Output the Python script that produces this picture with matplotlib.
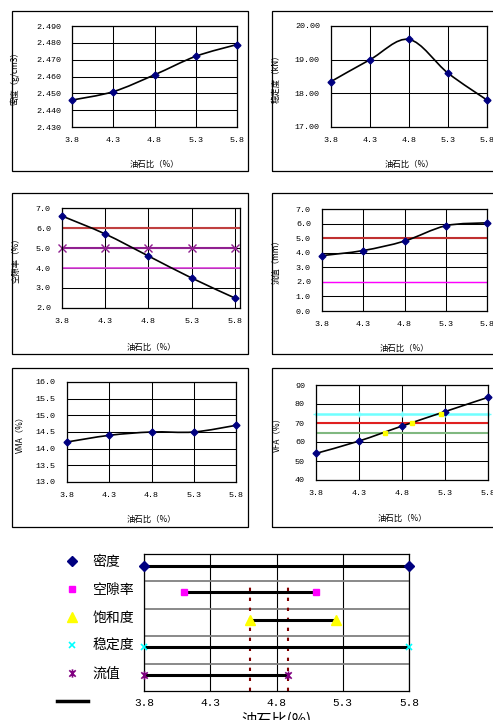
import numpy as np
import matplotlib
matplotlib.use('Agg')
import matplotlib.pyplot as plt
from matplotlib.path import Path
from matplotlib.patches import PathPatch, Rectangle
from matplotlib.lines import Line2D

plt.rcParams['font.family'] = ['Noto Sans CJK SC', 'DejaVu Sans']

# ---- data ----
asphalt = [3.8, 4.3, 4.8, 5.3, 5.8]          # 油石比 (%)
density = [2.446, 2.451, 2.461, 2.472, 2.479]
stability = [18.35, 19.0, 19.6, 18.6, 17.8]
air_voids = [6.6, 5.7, 4.6, 3.5, 2.5]
flow = [3.8, 4.15, 4.8, 5.85, 6.05]
vma = [14.2, 14.4, 14.5, 14.5, 14.7]
vfa = [54.0, 60.5, 68.4, 76.0, 83.5]

vv_upper, vv_mid, vv_lower = 6.0, 5.0, 4.0
flow_upper, flow_lower = 5.0, 2.0
vfa_upper, vfa_mid, vfa_lower = 75, 70, 65
vfa_cross_x = [4.6, 4.92, 5.25]
vfa_cross_y = [65, 70, 75]

# summary of acceptable asphalt ranges
range_names = ['密度', '空隙率', '饱和度', '稳定度', '流值']
range_lo = [3.8, 4.1, 4.6, 3.8, 3.8]
range_hi = [5.8, 5.1, 5.25, 5.8, 4.89]
range_row = [4.55, 3.6, 2.6, 1.6, 0.6]
oac_bounds = [4.6, 4.89]

W, H = 493, 720
fig = plt.figure(figsize=(W / 100, H / 100), dpi=100)
MONO = 'Liberation Mono'
NAVY = '#000080'


def px_axes(x0, y0, x1, y1):
    return fig.add_axes([x0 / W, 1 - y1 / H, (x1 - x0) / W, (y1 - y0) / H])


def frame(x0, y0, x1, y1):
    fig.add_artist(Rectangle((x0 / W, 1 - y1 / H), (x1 - x0) / W, (y1 - y0) / H,
                             transform=fig.transFigure, fill=False,
                             ec='black', lw=0.9))


def smooth(ax, x, y):
    # excel-like smoothed line: bezier through the points
    x = np.asarray(x, float); y = np.asarray(y, float)
    px = np.r_[x[0], x, x[-1]]; py = np.r_[y[0], y, y[-1]]
    verts = [(x[0], y[0])]; codes = [Path.MOVETO]
    for i in range(1, len(x)):
        c1 = (px[i] + (px[i + 1] - px[i - 1]) / 6, py[i] + (py[i + 1] - py[i - 1]) / 6)
        c2 = (px[i + 1] - (px[i + 2] - px[i]) / 6, py[i + 1] - (py[i + 2] - py[i]) / 6)
        verts += [c1, c2, (px[i + 1], py[i + 1])]
        codes += [Path.CURVE4] * 3
    ax.add_patch(PathPatch(Path(verts, codes), fill=False, lw=1.2,
                           ec='black', zorder=3))
    ax.plot(x, y, ls='none', marker='D', ms=3.5, color=NAVY, zorder=4,
            clip_on=False)


def panel(rect, yticks, yfmt, ylabel, xlab_y, ylab_x, xmax=5.8):
    ax = px_axes(*rect)
    x0, y0, x1, y1 = rect
    ax.set_xlim(3.8, xmax)
    ax.set_ylim(yticks[0], yticks[-1])
    ax.set_xticks(asphalt)
    ax.set_xticklabels([f'{v:.1f}' for v in asphalt], family=MONO, fontsize=6)
    ax.set_yticks(yticks)
    ax.set_yticklabels([yfmt.format(v) for v in yticks], family=MONO, fontsize=6)
    ax.tick_params(length=0)
    ax.tick_params(axis='x', pad=7)
    ax.tick_params(axis='y', pad=8)
    ax.grid(True, color='black', lw=0.75)
    ax.set_axisbelow(True)
    for s in ax.spines.values():
        s.set_lw(0.9)
    ax.set_xlabel('油石比（%）', fontsize=6)
    ax.set_ylabel(ylabel, fontsize=6)
    ax.xaxis.set_label_coords(0.5, (y1 - (xlab_y - 4)) / (y1 - y0))
    ax.yaxis.set_label_coords(((ylab_x + 4) - x0) / (x1 - x0), 0.5)
    return ax


# frames around each small chart
for fx0, fx1 in [(12, 248), (272, 500)]:
    for fy0, fy1 in [(11, 171), (193, 354), (368, 527)]:
        frame(fx0, fy0, fx1, fy1)

# density
ax = panel((72, 26, 237, 127), [2.43, 2.44, 2.45, 2.46, 2.47, 2.48, 2.49],
           '{:.3f}', '密度（g/cm3）', 164, 16)
smooth(ax, asphalt, density)

# stability
ax = panel((331, 26, 487, 127), [17, 18, 19, 20], '{:.2f}', '稳定度（kN）', 164, 277)
smooth(ax, asphalt, stability)

# air voids
ax = panel((62, 208, 240, 308), [2, 3, 4, 5, 6, 7], '{:.1f}', '空隙率（%）', 347, 16,
           xmax=5.86)
ax.axhline(vv_upper, color='#C04040', lw=1.5, zorder=2)
ax.plot(asphalt, [vv_mid] * len(asphalt), color='#902090', lw=1.5, marker='x',
        ms=6, mew=1.0, zorder=2, clip_on=False)
ax.axhline(vv_lower, color='#E040E0', lw=1.2, zorder=2)
smooth(ax, asphalt, air_voids)

# flow
ax = panel((322, 209, 487, 311), [0, 1, 2, 3, 4, 5, 6, 7], '{:.1f}', '流值（mm）',
           348, 277)
ax.axhline(flow_upper, color='#C03030', lw=1.5, zorder=2)
ax.axhline(flow_lower, color='#FF00FF', lw=1.0, zorder=2)
smooth(ax, asphalt, flow)

# VMA
ax = panel((67, 382, 236, 482), [13.0, 13.5, 14.0, 14.5, 15.0, 15.5, 16.0], '{:.1f}',
           'VMA（%）', 519, 20)
smooth(ax, asphalt, vma)

# VFA
ax = panel((316, 385, 488, 480), [40, 50, 60, 70, 80, 90], '{:.0f}', 'VFA（%）',
           518, 277)
ax.plot(asphalt, [vfa_upper] * len(asphalt), color='#70FFFF', lw=1.8, marker='+',
        ms=5, mew=1.0, zorder=2, clip_on=False)
ax.axhline(vfa_mid, color='#E02020', lw=1.5, zorder=2)
ax.axhline(vfa_lower, color='#80B880', lw=1.5, zorder=2)
ax.plot(vfa_cross_x, vfa_cross_y, ls='none', marker='s', ms=2.5, color='#FFFF00',
        zorder=5)
smooth(ax, asphalt, vfa)

# ---- summary chart ----
star = Path([(-1, -1), (1, 1), (-1, 1), (1, -1), (0, -1.3), (0, 1.3)],
            [Path.MOVETO, Path.LINETO] * 3)
markers = [dict(marker='D', ms=5, color=NAVY),
           dict(marker='s', ms=5, color='#FF00FF'),
           dict(marker='^', ms=7, color='#FFFF00'),
           dict(marker='x', ms=5, mew=1.2, color='#00FFFF'),
           dict(marker=star, ms=6, mew=1.2, mfc='none', color='#800080')]

ax = px_axes(144, 554, 409, 691)
ax.set_xlim(3.8, 5.8)
ax.set_ylim(0, 5)
ax.set_xticks(asphalt)
ax.set_xticklabels([f'{v:.1f}' for v in asphalt], family=MONO, fontsize=8)
ax.set_yticks([1, 2, 3, 4])
ax.set_yticklabels([])
ax.tick_params(length=0)
ax.tick_params(axis='x', pad=5)
ax.xaxis.grid(True, color='black', lw=0.8)
ax.yaxis.grid(True, color='#808080', lw=1.3)
ax.set_axisbelow(True)
for s in ax.spines.values():
    s.set_lw(0.9)

ax.vlines(oac_bounds, 0, 3.85, color='#800000', lw=1.5,
          linestyles=[(0, (1.6, 3.2))], zorder=2)
for lo, hi, row, mk in zip(range_lo, range_hi, range_row, markers):
    ax.plot([lo, hi], [row, row], color='black', lw=2.2, zorder=3)
    ax.plot([lo, hi], [row, row], ls='none', zorder=4, clip_on=False, **mk)

ax.set_xlabel('油石比(%)', fontsize=11)
ax.xaxis.set_label_coords(0.5, (691 - 712) / 137)

handles = [Line2D([], [], ls='none', **mk) for mk in markers]
handles.append(Line2D([], [], color='black', lw=2.5))
ax.legend(handles, range_names + [''], loc='upper left',
          bbox_to_anchor=(57 / W, 1 - 555 / H), bbox_transform=fig.transFigure,
          frameon=False, fontsize=10, labelspacing=1.0, handlelength=2.2,
          handletextpad=0.35, borderpad=0, borderaxespad=0)

fig.savefig('out.png', dpi=100)
